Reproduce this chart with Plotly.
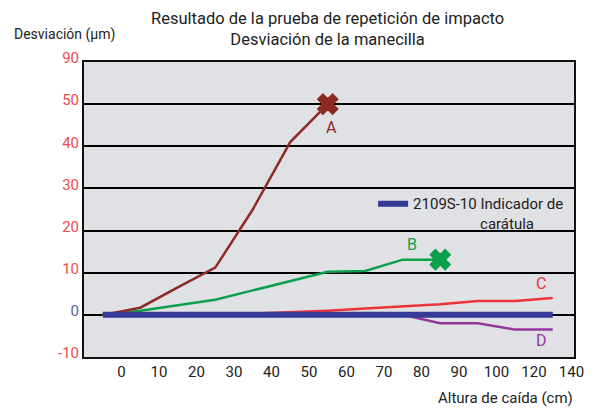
import plotly.graph_objects as go

# ---- data ----
x_tick_vals = [0, 10, 20, 30, 40, 50, 60, 70, 80, 90, 100, 110, 120]
x_tick_text = ["0", "10", "20", "30", "40", "50", "60", "70", "80", "90", "100", "120", "140"]
y_tick_vals = [-10, 0, 10, 20, 30, 40, 50, 60]
y_tick_text = ["-10", "<span style='color:#5a5aa8'>0</span>", "10", "20", "30", "40", "50", "90"]

a_x = [-5, 5, 15, 25, 35, 45, 55]
a_y = [0, 1.7, 6.5, 11.2, 25, 41, 50]
b_x = [-5, 5, 15, 25, 35, 45, 55, 65, 75, 85]
b_y = [0, 1.0, 2.3, 3.6, 5.8, 8.0, 10.2, 10.4, 13.1, 13.1]
c_x = [-5, 5, 15, 25, 35, 45, 55, 65, 75, 85, 95, 105, 115]
c_y = [0, 0, 0, 0, 0.3, 0.6, 1.0, 1.5, 2.0, 2.5, 3.3, 3.3, 4.0]
d_x = [-5, 5, 15, 25, 35, 45, 55, 65, 75, 85, 95, 105, 115]
d_y = [0, 0, 0, 0, 0, 0, 0, 0, 0, -2.0, -2.0, -3.5, -3.5]
ind_x = [-5, 5, 15, 25, 35, 45, 55, 65, 75, 85, 95, 105, 115]
ind_y = [0, 0, 0, 0, 0, 0, 0, 0, 0, 0, 0, 0, 0]

series_names = ["A", "B", "C", "D"]
label_pos = {"A": (56, 44.5), "B": (77.6, 16.7), "C": (112, 7.4), "D": (112, -6.2)}

BROWN = "#8c2b25"
GREEN = "#0ca04e"
RED = "#ee3338"
PURPLE = "#94379c"
BLUE = "#353a96"
FONT = "Roboto"

fig = go.Figure()

fig.add_trace(go.Scatter(x=c_x, y=c_y, mode="lines", line=dict(color=RED, width=2.5),
                         showlegend=False, hoverinfo="skip"))
fig.add_trace(go.Scatter(x=d_x, y=d_y, mode="lines", line=dict(color=PURPLE, width=2.5),
                         showlegend=False, hoverinfo="skip"))
fig.add_trace(go.Scatter(x=b_x, y=b_y, mode="lines+markers", line=dict(color=GREEN, width=2.5),
                         marker=dict(symbol="x", color=GREEN, opacity=1,
                                     size=[0] * (len(b_x) - 1) + [17],
                                     line=dict(color=GREEN, width=2)),
                         showlegend=False, hoverinfo="skip"))
fig.add_trace(go.Scatter(x=a_x, y=a_y, mode="lines+markers", line=dict(color=BROWN, width=2.5),
                         marker=dict(symbol="x", color=BROWN, opacity=1,
                                     size=[0] * (len(a_x) - 1) + [17],
                                     line=dict(color=BROWN, width=2)),
                         showlegend=False, hoverinfo="skip"))
fig.add_trace(go.Scatter(x=ind_x, y=ind_y, mode="lines", line=dict(color=BLUE, width=6),
                         name="2109S-10 Indicador de<br>" + "\u00a0" * 18 + "carátula",
                         showlegend=True, hoverinfo="skip"))

colors = {"A": BROWN, "B": GREEN, "C": RED, "D": PURPLE}
for n in series_names:
    lx, ly = label_pos[n]
    fig.add_annotation(x=lx, y=ly, xref="x", yref="y", text=n, showarrow=False,
                       font=dict(family=FONT, size=16, color=colors[n]))

# page body has an 8px margin, so the figure is 8px smaller and the margins compensate
fig.add_annotation(text="Resultado de la prueba de repetición de impacto<br>Desviación de la manecilla",
                   xref="paper", yref="paper", x=0.496, y=1.112, xanchor="center", yanchor="middle",
                   showarrow=False, font=dict(family=FONT, size=16.5, color="#222222"))
fig.add_annotation(text="Desviación (µm)", xref="paper", yref="paper", x=-0.147, y=1.094,
                   xanchor="left", yanchor="middle", showarrow=False,
                   font=dict(family=FONT, size=14, color="#222222"))
fig.add_annotation(text="Altura de caída (cm)", xref="paper", yref="paper", x=1.002, y=-0.139,
                   xanchor="right", yanchor="middle", showarrow=False,
                   font=dict(family=FONT, size=15, color="#222222"))

fig.update_layout(
    width=590, height=403,
    margin=dict(l=76, r=24, t=54, b=54, pad=0),
    paper_bgcolor="white",
    plot_bgcolor="#e0e1e5",
    legend=dict(x=0.59, y=0.575, xanchor="left", yanchor="top", valign="top",
                bgcolor="rgba(0,0,0,0)", font=dict(family=FONT, size=15, color="#222222")),
    xaxis=dict(range=[-10, 120.67], tickvals=x_tick_vals, ticktext=x_tick_text,
               showgrid=False, zeroline=False, showline=True, mirror=True,
               linecolor="#111111", linewidth=2, ticks="",
               tickfont=dict(family=FONT, size=15, color="#222222")),
    yaxis=dict(range=[-10, 60], tickvals=y_tick_vals, ticktext=y_tick_text,
               showgrid=True, gridcolor="#000000", gridwidth=1.5, zeroline=False,
               showline=True, mirror=True, linecolor="#111111", linewidth=2, ticks="",
               ticklabelshift=-4,
               tickfont=dict(family=FONT, size=15, color="#f04a50")),
)

fig.write_html("out.html")
